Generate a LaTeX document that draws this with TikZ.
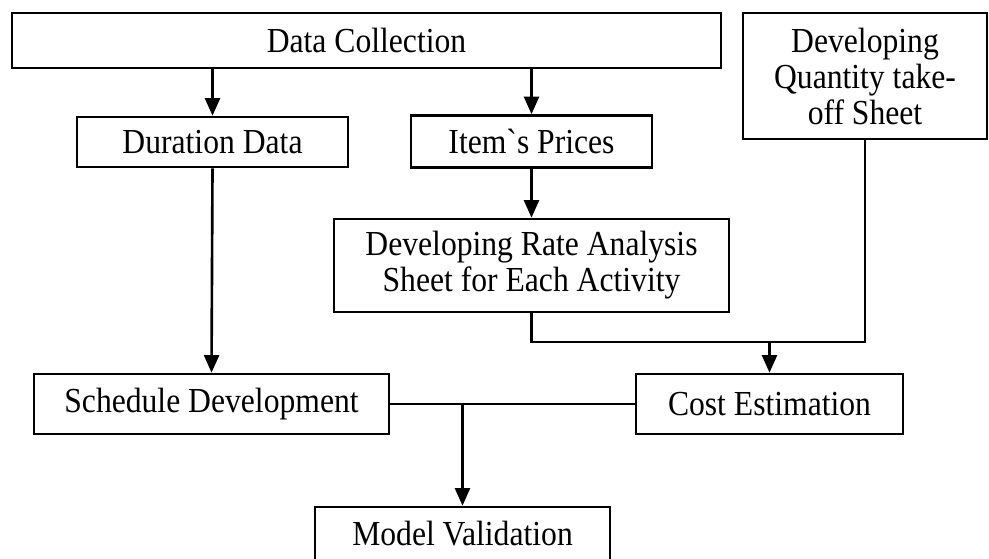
\documentclass[tikz,border=0pt]{standalone}
\usepackage{fontspec}
\setmainfont{Liberation Serif}[Ligatures=TeXOff, FakeStretch=0.9]
\usetikzlibrary{arrows.meta,positioning,calc}

\begin{document}
\begin{tikzpicture}[
  font=\fontsize{20}{20.5}\selectfont,
  every node/.style={align=center},
  box/.style={draw=black, line width=1.5pt, inner sep=0pt, fill=white},
  link/.style={black, line width=1.5pt},
  arr/.style={-{Triangle[length=10pt,width=8.5pt]}, black, line width=1.5pt},
]
\useasboundingbox (0,0) rectangle (19.78,-11.16);

%% --- Top row ---
\node[box, minimum width=14.18cm, minimum height=1.1cm] (dc) at (7.33,-0.81) {Data Collection};
\node[box, minimum width=4.88cm, minimum height=2.52cm] (qty) at (17.3,-1.52) {Developing\\Quantity take-\\off Sheet};

%% --- Second row ---
\node[box, minimum width=5.42cm, minimum height=1.0cm]  (dur)  at (4.25,-2.84) {Duration Data};
\node[box, minimum width=4.82cm, minimum height=1.04cm] (item) at (10.63,-2.83) {Item`s Prices};

%% --- Rate analysis ---
\node[box, minimum width=7.9cm, minimum height=1.86cm] (rate) at (10.63,-5.31) {Developing Rate Analysis\\Sheet for Each Activity};

%% --- Schedule / cost ---
\node[box, minimum width=7.1cm, minimum height=1.2cm]  (sched) at (4.23,-8.08) {Schedule Development};
\node[box, minimum width=5.34cm, minimum height=1.2cm] (cost)  at (15.39,-8.08) {Cost Estimation};

%% --- Validation (runs off the bottom edge) ---
\node[box, minimum width=5.9cm, minimum height=1.06cm] (mv) at (9.25,-10.67) {Model Validation};

\coordinate (mrg) at (15.39,-6.84);

%% --- Arrows ---
\draw[arr] (dc.south -| dur) -- (dur.north);
\draw[arr] (dc.south -| item) -- (item.north);
\draw[arr] (item.south) -- (rate.north);
\draw[link] (rate.south) |- (qty.south |- mrg) -- (qty.south);
\draw[arr] (mrg) -- (cost.north);
\draw[arr] (dur.south) -- (sched.north);
\draw[link] (sched.east) -- (cost.west);
\draw[arr] (mv.north |- sched.east) -- (mv.north);

\end{tikzpicture}
\end{document}
